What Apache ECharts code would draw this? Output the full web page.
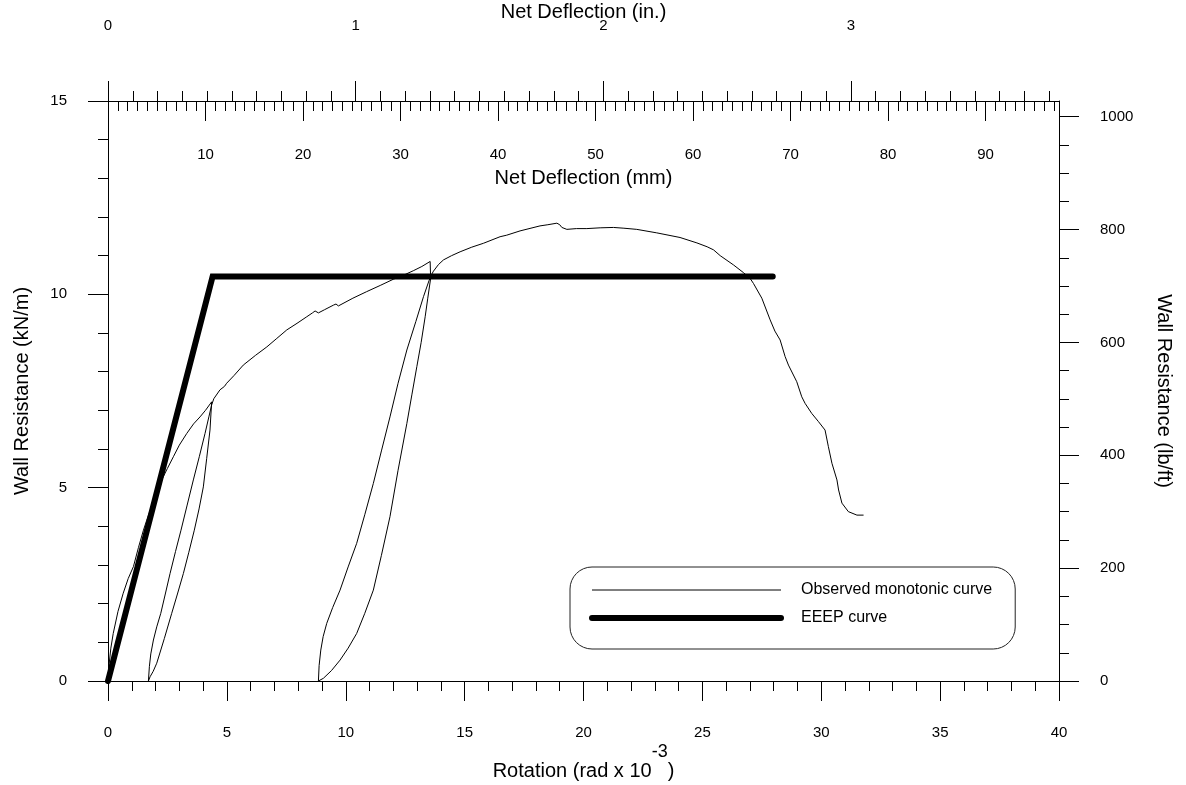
<!DOCTYPE html>
<html><head><meta charset="utf-8">
<script src="https://cdn.jsdelivr.net/npm/echarts@6/dist/echarts.min.js"></script>
<style>html,body{margin:0;padding:0;background:#fff}#c{width:1186px;height:785px}</style>
</head><body><div id="c"></div>
<script>
const FONT = "'Liberation Sans', Arial, Helvetica, sans-serif";

// Observed monotonic curve: rotation (rad x 10^-3), wall resistance (kN/m)
const obsInitialLoad = [[0,0],[0.05,0.45],[0.12,0.85],[0.22,1.23],[0.42,1.8],[0.64,2.27],[0.85,2.65],[1.07,2.96],[1.28,3.45],[1.49,3.9],[1.63,4.16],[1.85,4.55],[2.05,4.9],[2.26,5.2],[2.5,5.5],[2.75,5.8],[3.0,6.1],[3.31,6.4],[3.6,6.65],[3.87,6.83],[4.1,7.0],[4.36,7.22],[4.43,7.25]];
const obsUnload1 = [[4.29,6.49],[4.15,5.75],[4.01,5.02],[3.83,4.45],[3.63,3.9],[3.40,3.33],[3.17,2.78],[2.92,2.25],[2.68,1.75],[2.37,1.1],[2.05,0.46],[1.90,0.25],[1.77,0.11],[1.70,0]];
const obsReload1 = [[1.74,0.37],[1.80,0.7],[1.91,1.06],[2.05,1.4],[2.22,1.75],[2.41,2.25],[2.61,2.78],[2.84,3.35],[3.07,3.9],[3.33,4.55],[3.59,5.2],[3.84,5.8],[4.08,6.4],[4.25,6.85],[4.36,7.14],[4.45,7.3]];
const obsEnvelope1 = [[4.50,7.31],[4.71,7.53],[4.90,7.62],[4.99,7.70],[5.06,7.74],[5.3,7.9],[5.69,8.17],[6.2,8.42],[6.68,8.64],[7.1,8.86],[7.52,9.08],[7.95,9.25],[8.36,9.42],[8.6,9.52],[8.71,9.57],[8.85,9.52],[9.1,9.6],[9.48,9.72],[9.59,9.75],[9.69,9.70],[10.3,9.9],[10.88,10.07],[11.45,10.23],[12.00,10.39],[12.45,10.5],[12.84,10.61],[13.2,10.72],[13.55,10.85]];
const obsUnload2 = [[13.57,10.41],[13.45,9.9],[13.34,9.42],[13.17,8.75],[12.99,8.13],[12.78,7.4],[12.57,6.66],[12.2,5.45],[11.86,4.25],[11.5,3.25],[11.16,2.35],[10.8,1.75],[10.46,1.23],[10.1,0.85],[9.76,0.54],[9.4,0.27],[9.06,0.07],[8.85,0]];
const obsReload2 = [[8.88,0.4],[8.95,0.8],[9.05,1.15],[9.20,1.49],[9.45,1.9],[9.76,2.35],[10.1,2.95],[10.46,3.56],[10.8,4.3],[11.16,5.11],[11.5,5.95],[11.86,6.83],[12.2,7.7],[12.57,8.56],[12.95,9.3],[13.27,9.94],[13.5,10.35],[13.6,10.5]];
const obsEnvelope2 = [[13.69,10.6],[13.9,10.77],[14.11,10.89],[14.45,11.0],[14.81,11.10],[15.3,11.22],[15.79,11.32],[16.49,11.49],[16.77,11.53],[17.33,11.64],[18.17,11.77],[18.5,11.8],[18.88,11.84],[19.0,11.80],[19.09,11.73],[19.30,11.68],[19.7,11.70],[20.14,11.70],[20.7,11.72],[21.26,11.73],[21.7,11.71],[22.24,11.68],[23.08,11.59],[24.06,11.47],[24.77,11.33],[25.2,11.23],[25.47,11.15],[25.75,11.0],[26.31,10.76],[26.73,10.56],[27.01,10.41],[27.15,10.28],[27.50,9.9],[27.85,9.34],[28.05,9.05],[28.27,8.82],[28.48,8.39],[28.62,8.17],[28.97,7.74],[29.18,7.35],[29.32,7.18],[29.60,6.92],[29.88,6.71],[30.16,6.49],[30.30,6.06],[30.45,5.63],[30.66,5.20],[30.73,4.94],[30.87,4.60],[31.14,4.38],[31.50,4.29],[31.78,4.29]];

// EEEP curve
const eeep = [[0,0],[4.40,10.46],[27.96,10.46]];

// Axes
const rotMin = 0, rotMax = 40;          // rad x 10^-3
const kNMin = 0, kNMax = 15;            // kN/m
const KN_TO_LBFT = 68.5218;
const WALL_HEIGHT_MM = 2438.4;          // deflection = rotation x height
const mmMax = rotMax / 1000 * WALL_HEIGHT_MM;
const inMax = mmMax / 25.4;
const lbMax = kNMax * KN_TO_LBFT;
const inchMajor = [0, 1, 2, 3];
const mmMajorTicks = [0, 10, 20, 30, 40, 50, 60, 70, 80, 90];
const mmLabels = [10, 20, 30, 40, 50, 60, 70, 80, 90];
const lbMajor = [0, 200, 400, 600, 800, 1000];
const inchMinor = [], mmMinor = [], lbMinor = [];
for (let i = 0; i <= 38; i++) inchMinor.push(+(i / 10).toFixed(1));
for (let i = 0; i <= 97; i++) mmMinor.push(i);
for (let i = 0; i <= 1000; i += 50) lbMinor.push(i);

const data = [].concat(obsInitialLoad, obsUnload1, obsReload1, obsEnvelope1, obsUnload2, obsReload2, obsEnvelope2);

const AX = '#000';
const lbl = { color: '#000', fontSize: 15, fontFamily: FONT };
const nameStyle = { color: '#000', fontSize: 20, fontFamily: FONT, verticalAlign: 'middle' };
const noSplit = { show: false };
const line = (show) => ({ show: show, onZero: false, lineStyle: { color: AX, width: 1 } });

const chart = echarts.init(document.getElementById('c'), null, { renderer: 'canvas' });
chart.setOption({
  animation: false,
  backgroundColor: '#fff',
  grid: { left: 108, right: 127, top: 101, bottom: 104, containLabel: false, outerBoundsMode: 'none' },
  legend: {
    orient: 'vertical', left: 570, top: 567,
    padding: [15, 23, 23, 19],
    itemWidth: 189, itemHeight: 16, itemGap: 12,
    borderColor: '#222', borderWidth: 1, borderRadius: 22,
    backgroundColor: '#fff',
    itemStyle: { opacity: 0 },
    textStyle: { color: '#000', fontSize: 16, fontFamily: FONT, padding: [0, 0, 0, 15] },
    data: [
      { name: 'Observed monotonic curve', itemStyle: { opacity: 0 }, lineStyle: { width: 1, color: '#000' } },
      { name: 'EEEP curve', itemStyle: { opacity: 0 }, lineStyle: { width: 6, color: '#000', cap: 'round' } }
    ]
  },
  xAxis: [
    { type: 'value', position: 'bottom', min: rotMin, max: rotMax, interval: 5,
      axisLine: line(true),
      axisTick: { length: 20, lineStyle: { color: AX } },
      minorTick: { show: true, splitNumber: 5, length: 10, lineStyle: { color: AX } },
      axisLabel: Object.assign({ margin: 44 }, lbl),
      splitLine: noSplit,
      name: '{a|Rotation (rad x 10}{s|-3}{a|)}', nameLocation: 'middle', nameGap: 81, nameMoveOverlap: false,
      nameTextStyle: Object.assign({}, nameStyle, { rich: {
        a: { fontSize: 20, fontFamily: FONT, color: '#000', lineHeight: 38, verticalAlign: 'bottom' },
        s: { fontSize: 18, fontFamily: FONT, color: '#000', lineHeight: 38, verticalAlign: 'top' } } }) },
    { type: 'value', position: 'top', min: 0, max: inMax,
      axisLine: line(true),
      axisTick: { customValues: inchMinor, length: 10, lineStyle: { color: AX } },
      axisLabel: { show: false }, splitLine: noSplit },
    { type: 'value', position: 'top', min: 0, max: inMax,
      axisLine: line(false),
      axisTick: { customValues: inchMajor, length: 20, lineStyle: { color: AX } },
      axisLabel: Object.assign({ customValues: inchMajor, margin: 68 }, lbl),
      splitLine: noSplit,
      name: 'Net Deflection (in.)', nameLocation: 'middle', nameGap: 89, nameMoveOverlap: false, nameTextStyle: nameStyle },
    { type: 'value', position: 'top', min: 0, max: mmMax,
      axisLine: line(false),
      axisTick: { inside: true, customValues: mmMinor, length: 10, lineStyle: { color: AX } },
      axisLabel: { show: false }, splitLine: noSplit },
    { type: 'value', position: 'top', min: 0, max: mmMax,
      axisLine: line(false),
      axisTick: { inside: true, customValues: mmMajorTicks, length: 20, lineStyle: { color: AX } },
      axisLabel: Object.assign({ inside: true, customValues: mmLabels, margin: 46 }, lbl),
      splitLine: noSplit,
      name: 'Net Deflection (mm)', nameLocation: 'middle', nameGap: -77, nameMoveOverlap: false, nameTextStyle: nameStyle }
  ],
  yAxis: [
    { type: 'value', position: 'left', min: kNMin, max: kNMax, interval: 5,
      axisLine: line(true),
      axisTick: { show: true, length: 20, lineStyle: { color: AX } },
      minorTick: { show: true, splitNumber: 5, length: 10, lineStyle: { color: AX } },
      axisLabel: Object.assign({ margin: 41 }, lbl),
      splitLine: noSplit,
      name: 'Wall Resistance (kN/m)', nameLocation: 'middle', nameGap: 86, nameMoveOverlap: false, nameTextStyle: nameStyle },
    { type: 'value', position: 'right', min: 0, max: lbMax,
      axisLine: line(true),
      axisTick: { show: true, customValues: lbMinor, length: 10, lineStyle: { color: AX } },
      axisLabel: { show: false }, splitLine: noSplit },
    { type: 'value', position: 'right', min: 0, max: lbMax,
      axisLine: line(false),
      axisTick: { show: true, customValues: lbMajor, length: 20, lineStyle: { color: AX } },
      axisLabel: Object.assign({ customValues: lbMajor, margin: 41, formatter: (v) => String(v) }, lbl),
      splitLine: noSplit,
      name: 'Wall Resistance (lb/ft)', nameLocation: 'middle', nameGap: 105, nameRotate: -90, nameMoveOverlap: false, nameTextStyle: nameStyle }
  ],
  series: [
    { name: 'Observed monotonic curve', type: 'line', xAxisIndex: 0, yAxisIndex: 0,
      data: data, symbol: 'none', smooth: false,
      lineStyle: { color: '#000', width: 1 }, itemStyle: { color: '#000' } },
    { name: 'EEEP curve', type: 'line', xAxisIndex: 0, yAxisIndex: 0,
      data: eeep, symbol: 'none', smooth: false,
      lineStyle: { color: '#000', width: 6, cap: 'round', join: 'miter' }, itemStyle: { color: '#000' } }
  ]
});
</script></body></html>
